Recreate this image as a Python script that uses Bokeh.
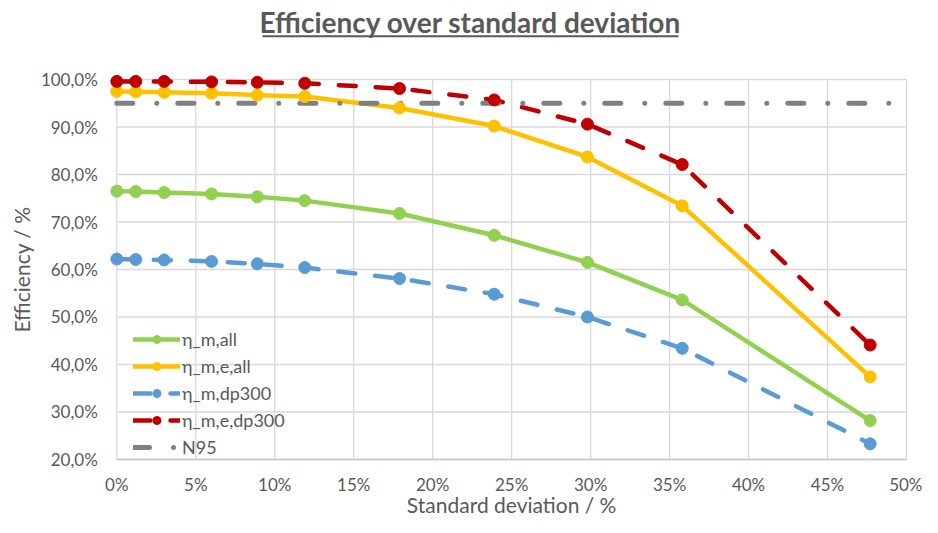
import math
from bokeh.plotting import figure
from bokeh.models import FixedTicker, Legend, LegendItem, Range1d, Label
from bokeh.embed import file_html
from bokeh.resources import INLINE

# ---- data ----
std_dev = [0, 1.2, 3.0, 6.0, 8.9, 11.9, 17.9, 23.9, 29.8, 35.8, 47.7]
eta_m_all = [76.5, 76.4, 76.2, 75.9, 75.3, 74.5, 71.8, 67.2, 61.5, 53.6, 28.2]
eta_m_e_all = [97.5, 97.4, 97.3, 97.1, 96.7, 96.4, 94.0, 90.2, 83.7, 73.4, 37.4]
eta_m_dp300 = [62.2, 62.1, 62.0, 61.7, 61.2, 60.4, 58.1, 54.8, 50.0, 43.4, 23.3]
eta_m_e_dp300 = [99.6, 99.6, 99.6, 99.5, 99.4, 99.2, 98.1, 95.7, 90.6, 82.1, 44.1]
n95_x = [0, 50]
n95_y = [95, 95]

x_tick_vals = [0, 5, 10, 15, 20, 25, 30, 35, 40, 45, 50]
x_tick_labels = ["0%", "5%", "10%", "15%", "20%", "25%", "30%", "35%", "40%", "45%", "50%"]
y_tick_vals = [20, 30, 40, 50, 60, 70, 80, 90, 100]
y_tick_labels = ["20,0%", "30,0%", "40,0%", "50,0%", "60,0%", "70,0%", "80,0%", "90,0%", "100,0%"]

title_text = "Efficiency over standard deviation"
x_label = "Standard deviation / %"
y_label = "Efficiency / %"

FONT = "Lato"
TXT = "#595959"
GRID = "#D9D9D9"

# the frame covers the whole canvas; axes sit at fixed data locations
p = figure(width=922, height=517, output_backend="svg", toolbar_location=None,
           x_range=Range1d(-7.364, 51.014), y_range=Range1d(7.789, 116.632),
           min_border_left=0, min_border_right=0, min_border_top=0, min_border_bottom=0)
p.outline_line_color = None
p.xgrid.visible = False
p.ygrid.visible = False

# title with underline
p.add_layout(Label(x=22.395, y=112.1, text=title_text, text_align="center",
                   text_baseline="middle", text_font=FONT, text_font_size="28px",
                   text_font_style="bold", text_color=TXT))
p.line([9.225, 35.563], [109.116, 109.116], line_color=TXT, line_width=2)

# axis titles
p.add_layout(Label(x=-6.034, y=60.0, text=y_label, angle=math.pi / 2, text_align="center",
                   text_baseline="middle", text_font=FONT, text_font_size="21px",
                   text_color=TXT))
p.add_layout(Label(x=25.0, y=10.63, text=x_label, text_align="center",
                   text_baseline="middle", text_font=FONT, text_font_size="21px",
                   text_color=TXT))

# gridlines restricted to data area
p.segment(x0=x_tick_vals, y0=[y_tick_vals[0]] * len(x_tick_vals),
          x1=x_tick_vals, y1=[y_tick_vals[-1]] * len(x_tick_vals),
          line_color=GRID, line_width=1.3)
p.segment(x0=[x_tick_vals[0]] * len(y_tick_vals), y0=y_tick_vals,
          x1=[x_tick_vals[-1]] * len(y_tick_vals), y1=y_tick_vals,
          line_color=GRID, line_width=1.3)

# axes
for ax, vals, labels in ((p.xaxis[0], x_tick_vals, x_tick_labels), (p.yaxis[0], y_tick_vals, y_tick_labels)):
    ax.ticker = FixedTicker(ticks=vals)
    ax.major_label_overrides = {v: l for v, l in zip(vals, labels)}
    ax.bounds = (vals[0], vals[-1])
    ax.axis_line_color = None
    ax.major_tick_line_color = None
    ax.minor_tick_line_color = None
    ax.major_tick_out = 0
    ax.major_tick_in = 0
    ax.minor_tick_out = 0
    ax.minor_tick_in = 0
    ax.major_label_text_font = FONT
    ax.major_label_text_font_size = "17px"
    ax.major_label_text_color = TXT

p.xaxis.fixed_location = y_tick_vals[0]
p.yaxis.fixed_location = x_tick_vals[0]
p.xaxis.axis_line_color = "#C8C8C8"
p.xaxis.axis_line_width = 1.3
p.xaxis.major_label_standoff = 15
p.yaxis.major_label_standoff = 19

LW = 4.5
MS = 12
series = [
    ("η_m,all", eta_m_all, "#92D050", "solid"),
    ("η_m,e,all", eta_m_e_all, "#FFC000", "solid"),
    ("η_m,dp300", eta_m_dp300, "#5B9BD5", "17 20"),
    ("η_m,e,dp300", eta_m_e_dp300, "#C00000", "17 20"),
]

lines = []
for name, ys, col, dash in series:
    ln = p.line(std_dev, ys, line_color=col, line_width=LW, line_dash=dash,
                line_cap="round", line_join="round")
    lines.append(ln)

n95 = p.line(n95_x, n95_y, line_color="#808080", line_width=5, line_dash="16 24 0 21",
             line_cap="round")

items = []
for (name, ys, col, dash), ln in zip(series, lines):
    sc = p.scatter(std_dev, ys, marker="circle", size=MS, fill_color=col, line_color=col)
    items.append(LegendItem(label=name, renderers=[ln, sc]))
items.append(LegendItem(label="N95", renderers=[n95]))

legend = Legend(items=items, location=(133, 59), orientation="vertical",
                glyph_width=47, glyph_height=20, label_height=20, label_standoff=2,
                spacing=5, padding=0, margin=0,
                label_text_font=FONT, label_text_font_size="18px", label_text_color=TXT,
                background_fill_alpha=0, border_line_color=None)
p.add_layout(legend, "center")

open("out.html", "w").write(file_html(p, INLINE))
